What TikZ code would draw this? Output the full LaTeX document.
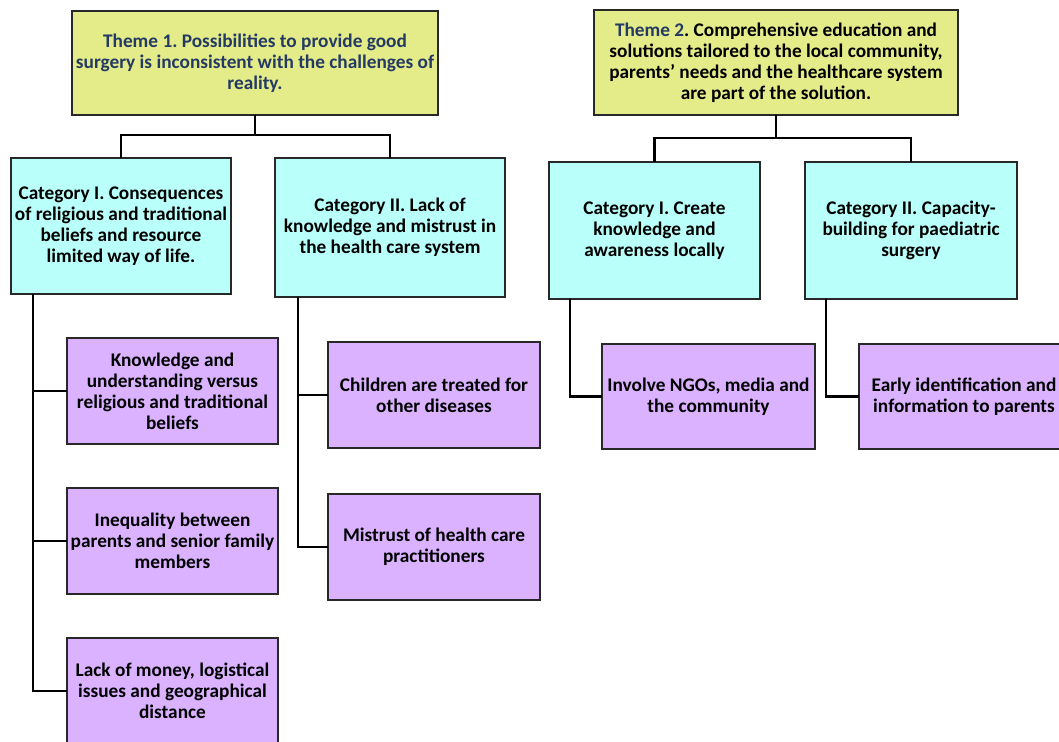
\documentclass[tikz,border=0pt]{standalone}
\usepackage{fontspec}
\setmainfont{Carlito}
\frenchspacing
\definecolor{themefill}{RGB}{228,236,137}
\definecolor{catfill}{RGB}{185,255,250}
\definecolor{leaffill}{RGB}{218,178,255}
\definecolor{tblue}{RGB}{36,58,100}
\definecolor{edge}{RGB}{40,40,40}
\tikzset{
  box/.style={draw=edge, line width=1.3pt, inner sep=0pt, outer sep=0pt, align=center,
    font=\fontsize{19.3}{21}\selectfont\bfseries},
  themebox/.style={box, fill=themefill},
  catbox/.style={box, fill=catfill},
  leafbox/.style={box, fill=leaffill},
  conn/.style={draw=black, line width=2.6pt},
  lconn/.style={draw=black, line width=2.2pt}
}
\begin{document}
\begin{tikzpicture}[x=1pt,y=-1pt]
\useasboundingbox (0,0) rectangle (1059,741);
% themes
\node[themebox, minimum width=366pt, minimum height=104pt, text=tblue] (t1) at (255,63)
  {Theme 1. Possibilities to provide good\\surgery is inconsistent with the challenges of\\reality.};
\node[themebox, minimum width=364pt, minimum height=105pt] (t2) at (776,62.5)
  {\textcolor{tblue}{Theme 2}. Comprehensive education and\\solutions tailored to the local community,\\parents’ needs and the healthcare system\\are part of the solution.};
% categories
\node[catbox, minimum width=220pt, minimum height=136pt] (c11) at (121,226)
  {Category I. Consequences\\of religious and traditional\\beliefs and resource\\limited way of life.};
\node[catbox, minimum width=230pt, minimum height=139pt] (c12) at (390,227.5)
  {Category II. Lack of\\knowledge and mistrust in\\the health care system};
\node[catbox, minimum width=211pt, minimum height=137pt] (c21) at (654.5,230.5)
  {Category I. Create\\knowledge and\\awareness locally};
\node[catbox, minimum width=212pt, minimum height=137pt] (c22) at (911,230.5)
  {Category II. Capacity-\\building for paediatric\\surgery};
% leaves
\node[leafbox, minimum width=211pt, minimum height=106pt] (l1) at (172.5,391)
  {Knowledge and\\understanding versus\\religious and traditional\\beliefs};
\node[leafbox, minimum width=211pt, minimum height=106pt] (l2) at (172.5,541)
  {Inequality between\\parents and senior family\\members};
\node[leafbox, minimum width=211pt, minimum height=106pt] (l3) at (172.5,691)
  {Lack of money, logistical\\issues and geographical\\distance};
\node[leafbox, minimum width=212pt, minimum height=106pt] (l4) at (434,395)
  {Children are treated for\\other diseases};
\node[leafbox, minimum width=212pt, minimum height=106pt] (l5) at (434,547)
  {Mistrust of health care\\practitioners};
\node[leafbox, minimum width=213pt, minimum height=105pt] (l6) at (708.5,396.5)
  {Involve NGOs, media and\\the community};
\node[leafbox, minimum width=210pt, minimum height=105pt] (l7) at (964,396.5)
  {Early identification and\\information to parents};
% theme connectors
\draw[conn] (t1.south) -- ++(0,20) coordinate (j1) -| (c11.north);
\draw[conn] (j1) -| (c12.north);
\draw[conn] (t2.south) -- ++(0,23) coordinate (j2) -| (c21.north);
\draw[conn] (j2) -| (c22.north);
% leaf connectors
\draw[lconn] (c11.south west) ++(22,0) coordinate (v1) |- (l3.west);
\draw[lconn] (v1) |- (l1.west);
\draw[lconn] (v1) |- (l2.west);
\draw[lconn] (c12.south west) ++(23,0) coordinate (v2) |- (l5.west);
\draw[lconn] (v2) |- (l4.west);
\draw[lconn] (c21.south west) ++(21,0) |- (l6.west);
\draw[lconn] (c22.south west) ++(21,0) |- (l7.west);
\end{tikzpicture}
\end{document}
